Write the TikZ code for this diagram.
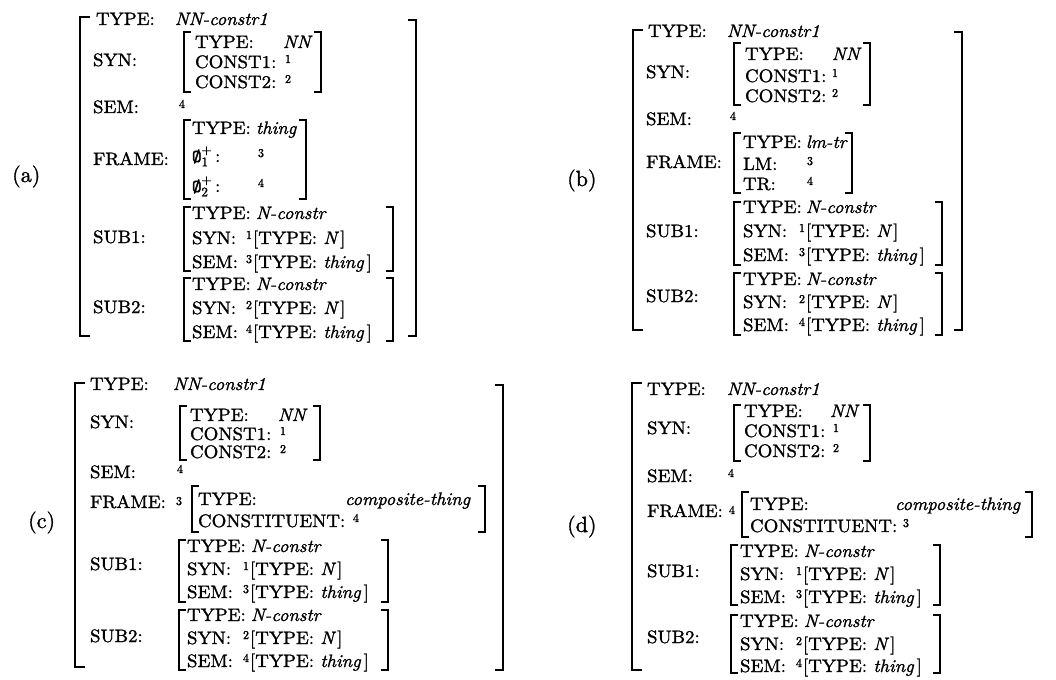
\documentclass[tikz,border=0pt]{standalone}
\newcount\nodeno
\font\mf="[lmroman10-regular]:mapping=tex-text;extend=1.05;embolden=1.3" at 18bp
\font\mfi="[lmroman10-italic]:mapping=tex-text;extend=1.03;embolden=1.3" at 18bp
\font\mft="[lmmono10-regular]:embolden=2.5" at 18bp
\font\msup="[lmroman10-regular]:embolden=1.8" at 12bp
\font\msb="[lmroman10-regular]:embolden=1.5" at 13bp
\font\mlab="[lmroman10-regular]:embolden=1.3" at 22bp
\newcommand\mainfs{\fontsize{18}{20}\selectfont\mf}
\tikzset{
  txt/.style={anchor=base west, inner sep=0pt, outer sep=0pt, font=\mainfs},
  it/.style={font=\mainfs\mfi},
  supn/.style={anchor=base west, inner sep=0pt, outer sep=0pt, font=\msup},
  plab/.style={anchor=base west, inner sep=0pt, font=\mlab},
  brk/.style={line width=2.2bp, line cap=butt, line join=miter},
}
\newcommand\T[3][]{\global\advance\nodeno by 1 \node[txt,#1] (t\the\nodeno) at (#2) {#3};}
\newcommand\Sp[4][5bp]{\global\advance\nodeno by 1 \node[supn] (t\the\nodeno) at ([yshift=#1]#2,#3) {#4};}
\newcommand\LB[4]{\draw[brk] (#1+#4,#2) -- (#1,#2) -- (#1,#3) -- (#1+#4,#3);}
\newcommand\RB[4]{\draw[brk] (#1-#4,#2) -- (#1,#2) -- (#1,#3) -- (#1-#4,#3);}
\newcommand\Nb{[TYPE: {\mfi N}\,]}
\newcommand\Tb{[TYPE: {\mfi thing}\,]}
\newcommand\Oz[1]{${\hbox{\mft Ø}}^{\hbox{\msb +}}_{\hbox{\msb #1}}$\,:}
\begin{document}
\begin{tikzpicture}[x=1bp,y=-1bp]
\useasboundingbox (0,0) rectangle (1056,680);
\fill[white] (0,0) rectangle (1056,680);

% ---------------- (a) ----------------
\node[plab] (la) at (12,182) {(a)};
\LB{80}{17}{336}{10} \RB{416}{20}{336}{8}
\T{96,25}{TYPE:} \T[it]{175,25}{NN-constr1}
\T{93,66}{SYN:}
\LB{184}{32}{92}{7} \RB{321}{32}{92}{7}
\T{195,48}{TYPE:} \T[it]{283,48}{NN}
\T{195,68}{CONST1:} \Sp{285}{68}{1}
\T{195,88}{CONST2:} \Sp{285}{88}{2}
\T{93,113}{SEM:} \Sp{179}{113}{4}
\T{93,165}{FRAME:}
\LB{184}{120}{199}{7} \RB{306}{120}{199}{7}
\T{192,134}{TYPE:} \T[it]{256,134}{thing}
\T{192,162}{\Oz{1}} \Sp{258}{162}{3}
\T{192,192}{\Oz{2}} \Sp{258}{192}{4}
\T{93,243}{SUB1:}
\LB{184}{207}{271}{7} \RB{393}{207}{271}{7}
\T{192,219}{TYPE:} \T[it]{256,219}{N-constr}
\T{192,244}{SYN:} \Sp{246}{244}{1} \T{253,244}{\Nb}
\T{192,268}{SEM:} \Sp{246}{268}{3} \T{253,268}{\Tb}
\T{93,313}{SUB2:}
\LB{184}{278}{341}{7} \RB{393}{278}{341}{7}
\T{192,290}{TYPE:} \T[it]{256,290}{N-constr}
\T{192,314}{SYN:} \Sp{246}{314}{2} \T{253,314}{\Nb}
\T{192,338}{SEM:} \Sp{246}{338}{4} \T{253,338}{\Tb}

% ---------------- (b) ----------------
\node[plab] (lb) at (567,186) {(b)};
\LB{633}{30}{330}{10} \RB{962}{32}{330}{8}
\T{648,37}{TYPE:} \T[it]{727,37}{NN-constr1}
\T{646,78}{SYN:}
\LB{734}{43}{105}{7} \RB{870}{43}{105}{7}
\T{745,60}{TYPE:} \T[it]{832,60}{NN}
\T{745,82}{CONST1:} \Sp{832}{82}{1}
\T{745,102}{CONST2:} \Sp{832}{102}{2}
\T{646,125}{SEM:} \Sp{730}{125}{4}
\T{646,168}{FRAME:}
\LB{734}{133}{193}{7} \RB{852}{133}{193}{7}
\T{743,148}{TYPE:} \T[it]{806,148}{lm-tr}
\T{743,170}{LM:} \Sp{807}{170}{3}
\T{743,190}{TR:} \Sp{807}{190}{4}
\T{646,237}{SUB1:}
\LB{734}{202}{265}{7} \RB{942}{202}{265}{7}
\T{743,213}{TYPE:} \T[it]{806,213}{N-constr}
\T{743,237}{SYN:} \Sp{799}{237}{1} \T{806,237}{\Nb}
\T{743,261}{SEM:} \Sp{799}{261}{3} \T{806,261}{\Tb}
\T{646,302}{SUB2:}
\LB{734}{273}{335}{7} \RB{942}{273}{335}{7}
\T{743,285}{TYPE:} \T[it]{806,285}{N-constr}
\T{743,308}{SYN:} \Sp{799}{308}{2} \T{806,308}{\Nb}
\T{743,331}{SEM:} \Sp{799}{331}{4} \T{806,331}{\Tb}

% ---------------- (c) ----------------
\node[plab] (lc) at (28,528) {(c)};
\LB{75}{383}{667}{10} \RB{503}{385}{670}{8}
\T{90,390}{TYPE:} \T[it]{173,390}{NN-constr1}
\T{90,428}{SYN:}
\LB{180}{406}{460}{7} \RB{320}{406}{460}{7}
\T{190,421}{TYPE:} \T[it]{278,421}{NN}
\T{190,440}{CONST1:} \Sp{280}{440}{1}
\T{190,458}{CONST2:} \Sp{280}{458}{2}
\T{90,478}{SEM:} \Sp{177}{478}{4}
\T{90,508}{FRAME:} \Sp[3bp]{176}{508}{3}
\LB{192}{486}{532}{7} \RB{485}{486}{532}{7}
\T{198,505}{TYPE:} \T[it]{345,505}{composite-thing}
\T{198,527}{CONSTITUENT:} \Sp{353}{527}{4}
\T{90,570}{SUB1:}
\LB{179}{540}{602}{7} \RB{388}{540}{602}{7}
\T{187,552}{TYPE:} \T[it]{251,552}{N-constr}
\T{187,575}{SYN:} \Sp{243}{575}{1} \T{250,575}{\Nb}
\T{187,598}{SEM:} \Sp{243}{598}{3} \T{250,598}{\Tb}
\T{90,642}{SUB2:}
\LB{179}{610}{670}{7} \RB{388}{610}{670}{7}
\T{187,621}{TYPE:} \T[it]{251,621}{N-constr}
\T{187,644}{SYN:} \Sp{243}{644}{2} \T{250,644}{\Nb}
\T{187,667}{SEM:} \Sp{243}{667}{4} \T{250,667}{\Tb}

% ---------------- (d) ----------------
\node[plab] (ld) at (567,532) {(d)};
\LB{632}{383}{670}{10}
\T{647,395}{TYPE:} \T[it]{727,395}{NN-constr1}
\T{647,434}{SYN:}
\LB{734}{405}{461}{7} \RB{870}{405}{461}{7}
\T{744,417}{TYPE:} \T[it]{830,417}{NN}
\T{744,437}{CONST1:} \Sp{833}{437}{1}
\T{744,457}{CONST2:} \Sp{833}{457}{2}
\T{647,482}{SEM:} \Sp{728}{482}{4}
\T{647,517}{FRAME:} \Sp[3bp]{729}{517}{4}
\LB{742}{492}{537}{7} \RB{1032}{492}{537}{7}
\T{750,510}{TYPE:} \T[it]{895,510}{composite-thing}
\T{750,532}{CONSTITUENT:} \Sp{903}{532}{3}
\T{647,577}{SUB1:}
\LB{731}{545}{605}{7} \RB{940}{545}{605}{7}
\T{740,557}{TYPE:} \T[it]{804,557}{N-constr}
\T{740,580}{SYN:} \Sp{796}{580}{1} \T{803,580}{\Nb}
\T{740,603}{SEM:} \Sp{796}{603}{3} \T{803,603}{\Tb}
\T{647,643}{SUB2:}
\LB{731}{615}{673}{7} \RB{940}{615}{673}{7}
\T{740,627}{TYPE:} \T[it]{804,627}{N-constr}
\T{740,650}{SYN:} \Sp{796}{650}{2} \T{803,650}{\Nb}
\T{740,672}{SEM:} \Sp{796}{672}{4} \T{803,672}{\Tb}
\end{tikzpicture}
\end{document}
